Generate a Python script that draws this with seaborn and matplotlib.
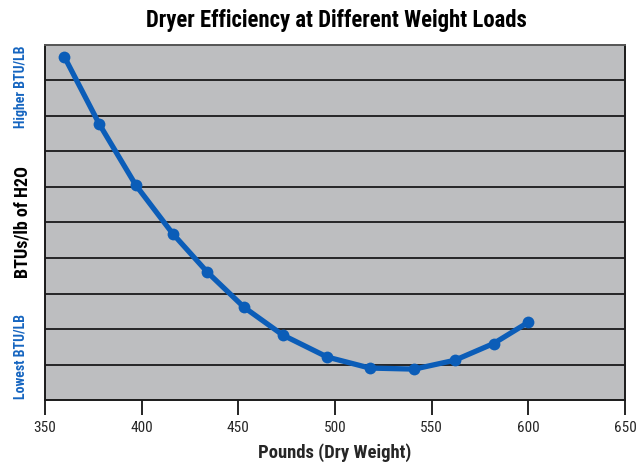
import matplotlib
matplotlib.use("Agg")
import matplotlib.pyplot as plt
import seaborn as sns
import pandas as pd
from matplotlib import font_manager

# Data
weights = [360, 378, 397, 416, 434, 453, 473, 496, 518, 541, 562, 582, 600]
btu_index = [9.67, 7.78, 6.05, 4.69, 3.60, 2.61, 1.83, 1.21, 0.90, 0.87, 1.12, 1.59, 2.19]
x_ticks = [350, 400, 450, 500, 550, 600, 650]

title = "Dryer Efficiency at Different Weight Loads"
x_label = "Pounds (Dry Weight)"
y_label = "BTUs/lb of H2O"
high_label = "Higher BTU/LB"
low_label = "Lowest BTU/LB"

sns.set_theme(style="white")
names = sorted({f.name for f in font_manager.fontManager.ttflist})
cands = ["Liberation Sans Narrow", "DejaVu Sans Condensed", "Roboto Condensed"]
fam = [c for c in cands if c in names] + ["DejaVu Sans"]
plt.rcParams["font.family"] = fam
plt.rcParams["font.stretch"] = "condensed"

df = pd.DataFrame({"weight": weights, "btu": btu_index})

fig = plt.figure(figsize=(6.39, 4.65), dpi=100)
ax = fig.add_axes([45 / 639, 65 / 465, 580 / 639, 355 / 465])
ax.set_facecolor("#bdbec0")

for yv in range(1, 10):
    ax.axhline(yv, color="#1a1a1a", lw=1.3, zorder=1)

line_color = "#0b5db8"
sns.lineplot(data=df, x="weight", y="btu", ax=ax, color=line_color, lw=3.8,
             marker="o", markersize=8.5, markeredgewidth=0, zorder=3)

ax.set_xlim(350, 650)
ax.set_ylim(0, 10)
ax.set_xticks(x_ticks)
ax.set_xticklabels([str(t) for t in x_ticks], fontsize=11)
ax.set_yticks([])
ax.tick_params(axis="x", direction="out", length=11, width=1.2, color="black",
               bottom=True, pad=4)

for s in ax.spines.values():
    s.set_color("#1a1a1a")
    s.set_linewidth(1.4)
ax.spines["top"].set_color("#555555")

ax.set_xlabel(x_label, fontsize=13.4, fontweight="bold", labelpad=6)
ax.set_ylabel("")
fig.text(23 / 639, 1 - 222 / 465, y_label, rotation=90, ha="center", va="center",
         fontsize=13, fontweight="bold", color="black")
fig.text(21 / 639, 1 - 87 / 465, high_label, rotation=90, ha="center", va="center",
         fontsize=10, fontweight="bold", color="#1565c0")
fig.text(21 / 639, 1 - 356 / 465, low_label, rotation=90, ha="center", va="center",
         fontsize=10, fontweight="bold", color="#1565c0")

fig.text(336 / 639, 1 - 20 / 465, title, ha="center", va="center",
         fontsize=16.4, fontweight="black", color="black")

fig.savefig("out.png", dpi=100, facecolor="white")
